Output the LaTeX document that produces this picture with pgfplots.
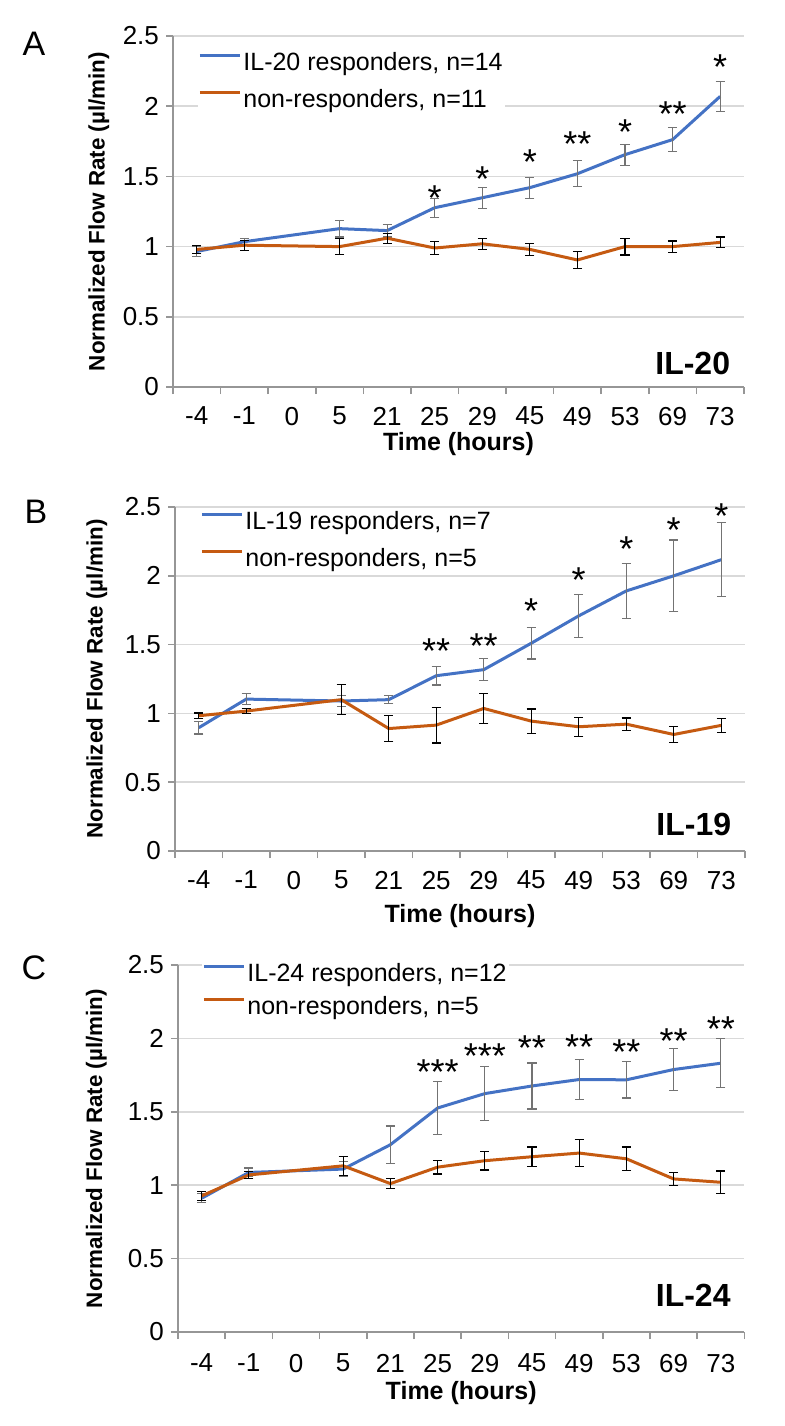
\documentclass[border=0pt]{standalone}
\usepackage{fontspec}
\setmainfont{Liberation Sans}
\usepackage{pgfplots}
\pgfplotsset{compat=1.18}

\definecolor{resp}{RGB}{68,114,196}
\definecolor{nonresp}{RGB}{197,90,17}
\definecolor{gridgray}{RGB}{217,217,217}
\definecolor{axgray}{RGB}{150,150,150}

\tikzset{tag/.style={font=\bfseries\fontsize{16}{18}\selectfont, anchor=east}}

\pgfplotsset{
  panel/.style={
    anchor=south west, clip=false,
    xmin=-0.5, xmax=11.5, ymin=0, ymax=2.5,
    xtick={-0.5,0.5,...,11.5},
    x tick label as interval,
    xticklabels={-4,-1,0,5,21,25,29,45,49,53,69,73},
    ytick={0,0.5,...,2.5},
    axis x line*=bottom, axis y line*=left,
    axis line style={axgray, line width=0.8pt},
    tick style={axgray, line width=0.8pt},
    tick align=outside, major tick length=3.5pt,
    ymajorgrids, grid style={gridgray, line width=0.8pt},
    tick label style={font=\fontsize{13}{15}\selectfont},
    xticklabel style={yshift=-3pt},
    /pgf/number format/assume math mode=true,
    xlabel={Time (hours)},
    ylabel={Normalized Flow Rate (µl/min)},
    xlabel style={font=\bfseries\fontsize{12.5}{14}\selectfont,
      at={(axis description cs:0.5,0)}, anchor=center, yshift=-28.5pt},
    ylabel style={font=\bfseries\fontsize{11.2}{13}\selectfont, anchor=center},
    legend cell align=left,
    legend style={draw=none, fill=white, font=\fontsize{12.5}{14}\selectfont,
      at={(axis description cs:0,1)}, anchor=north west,
      inner xsep=0pt, inner ysep=0pt, row sep=8pt,
      nodes={inner xsep=1pt, inner ysep=0pt}},
    legend image code/.code={\draw[#1] (0pt,3.6pt) -- (20pt,3.6pt);},
  },
  respline/.style={resp, line width=1.5pt,
    error bars/.cd, y dir=both, y explicit,
    error bar style={black!55, line width=0.6pt},
    error mark options={rotate=90, mark size=2.3pt, black!55, line width=0.6pt}},
  nonline/.style={nonresp, line width=1.5pt,
    error bars/.cd, y dir=both, y explicit,
    error bar style={black, line width=0.6pt},
    error mark options={rotate=90, mark size=2.3pt, black, line width=0.6pt}},
  stars/.style={draw=none, forget plot, nodes near coords,
    point meta=explicit symbolic,
    every node near coord/.append style={font=\fontsize{18}{18}\selectfont,
      anchor=center, yshift=-4pt, inner sep=0pt}},
}

\begin{document}
\begin{tikzpicture}
\useasboundingbox (0,0) rectangle (392pt,-713pt);

\node[font=\fontsize{17}{20}\selectfont] at (17pt,-22pt) {A};
\node[font=\fontsize{17}{20}\selectfont] at (18pt,-256pt) {B};
\node[font=\fontsize{17}{20}\selectfont] at (17pt,-484pt) {C};

% ---------- A: IL-20 ----------
\begin{axis}[panel, at={(86.5pt,-193.5pt)}, x=23.79pt, y=70.2pt,
  ylabel style={at={(axis description cs:-0.13,0.5)}},
  legend style={xshift=12.5pt, yshift=-8pt}]
\addplot[respline] coordinates {
  (0,0.965) +- (0,0.035)
  (1,1.035) +- (0,0.02)
  (3,1.128) +- (0,0.06)
  (4,1.114) +- (0,0.045)
  (5,1.277) +- (0,0.067)
  (6,1.348) +- (0,0.075)
  (7,1.42)  +- (0,0.075)
  (8,1.519) +- (0,0.093)
  (9,1.655) +- (0,0.075)
  (10,1.762) +- (0,0.086)
  (11,2.07) +- (0,0.108)
};
\addlegendentry{IL-20 responders, n=14}
\addplot[nonline] coordinates {
  (0,0.98)  +- (0,0.03)
  (1,1.01)  +- (0,0.035)
  (3,1.0)   +- (0,0.055)
  (4,1.06)  +- (0,0.035)
  (5,0.99)  +- (0,0.045)
  (6,1.02)  +- (0,0.04)
  (7,0.98)  +- (0,0.045)
  (8,0.905) +- (0,0.06)
  (9,1.0)   +- (0,0.06)
  (10,1.0)  +- (0,0.04)
  (11,1.03) +- (0,0.038)
};
\addlegendentry{non-responders, n=11}
\addplot[stars] coordinates {
  (5,1.405) [*] (6,1.536) [*] (7,1.662) [*] (8,1.79) [**]
  (9,1.869) [*] (10,2.0) [**] (11,2.333) [*]
};
\node[tag] at (rel axis cs:0.988,0.068) {IL-20};
\end{axis}

% ---------- B: IL-19 ----------
\begin{axis}[panel, at={(87.5pt,-425.5pt)}, x=23.75pt, y=68.8pt,
  ylabel style={at={(axis description cs:-0.137,0.5)}},
  xlabel style={yshift=-4pt},
  legend style={xshift=12.5pt, yshift=-2pt}]
\addplot[respline] coordinates {
  (0,0.896) +- (0,0.045)
  (1,1.104) +- (0,0.04)
  (3,1.09)  +- (0,0.04)
  (4,1.10)  +- (0,0.03)
  (5,1.274) +- (0,0.068)
  (6,1.318) +- (0,0.08)
  (7,1.51)  +- (0,0.114)
  (8,1.709) +- (0,0.155)
  (9,1.89)  +- (0,0.2)
  (10,2.0)  +- (0,0.26)
  (11,2.117) +- (0,0.27)
};
\addlegendentry{IL-19 responders, n=7}
\addplot[nonline] coordinates {
  (0,0.983) +- (0,0.02)
  (1,1.017) +- (0,0.02)
  (3,1.1)   +- (0,0.11)
  (4,0.89)  +- (0,0.095)
  (5,0.915) +- (0,0.13)
  (6,1.036) +- (0,0.11)
  (7,0.944) +- (0,0.088)
  (8,0.903) +- (0,0.068)
  (9,0.922) +- (0,0.045)
  (10,0.847) +- (0,0.056)
  (11,0.913) +- (0,0.05)
};
\addlegendentry{non-responders, n=5}
\addplot[stars] coordinates {
  (5,1.51) [**] (6,1.546) [**] (7,1.80) [*] (8,2.024) [*]
  (9,2.25) [*] (10,2.388) [*] (11,2.493) [*]
};
\node[tag] at (rel axis cs:0.988,0.076) {IL-19};
\end{axis}

% ---------- C: IL-24 ----------
\begin{axis}[panel, at={(89pt,-666pt)}, x=23.6pt, y=73.4pt,
  ylabel style={at={(axis description cs:-0.144,0.5)}},
  xticklabel style={yshift=-1pt},
  xlabel style={yshift=-2pt},
  legend style={xshift=12pt, yshift=1pt, row sep=6pt}]
\addplot[respline] coordinates {
  (0,0.911) +- (0,0.03)
  (1,1.087) +- (0,0.03)
  (3,1.11)  +- (0,0.05)
  (4,1.276) +- (0,0.128)
  (5,1.526) +- (0,0.183)
  (6,1.624) +- (0,0.185)
  (7,1.676) +- (0,0.157)
  (8,1.72)  +- (0,0.137)
  (9,1.718) +- (0,0.124)
  (10,1.788) +- (0,0.142)
  (11,1.831) +- (0,0.166)
};
\addlegendentry{IL-24 responders, n=12}
\addplot[nonline] coordinates {
  (0,0.927) +- (0,0.03)
  (1,1.07)  +- (0,0.025)
  (3,1.132) +- (0,0.065)
  (4,1.011) +- (0,0.035)
  (5,1.123) +- (0,0.047)
  (6,1.167) +- (0,0.064)
  (7,1.194) +- (0,0.066)
  (8,1.219) +- (0,0.09)
  (9,1.18)  +- (0,0.08)
  (10,1.043) +- (0,0.046)
  (11,1.02) +- (0,0.077)
};
\addlegendentry{non-responders, n=5}
\addplot[stars] coordinates {
  (5,1.822) [***] (6,1.936) [***] (7,1.989) [**] (8,1.993) [**]
  (9,1.959) [**] (10,2.039) [**] (11,2.118) [**]
};
\node[tag] at (rel axis cs:0.988,0.1) {IL-24};
\end{axis}
\end{tikzpicture}
\end{document}
